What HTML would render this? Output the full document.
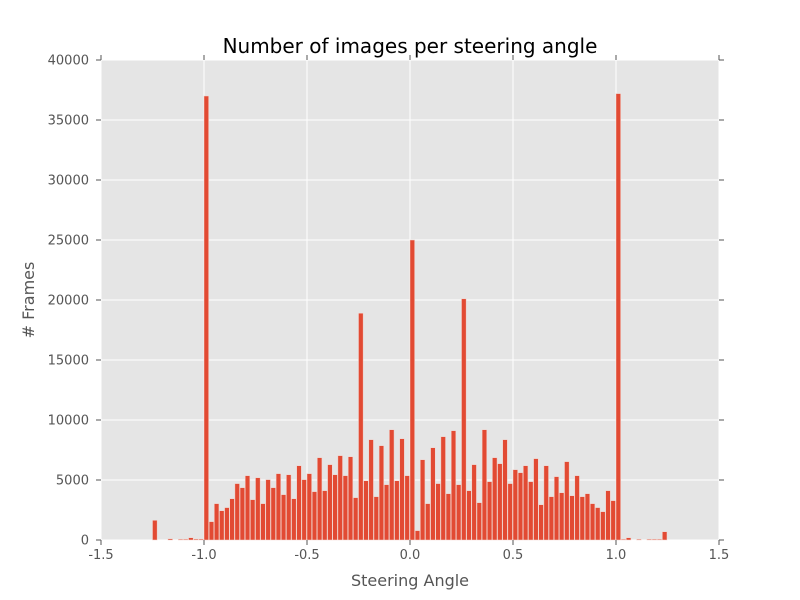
<!DOCTYPE html>
<html><head><meta charset="utf-8"><style>
body{margin:0;background:#fff;}
svg{display:block;font-family:"DejaVu Sans","Liberation Sans",sans-serif;}
</style></head><body>
<svg id="chart" width="800" height="600" viewBox="0 0 800 600">
<rect x="101" y="60" width="618" height="480" fill="#e5e5e5"/>
<g id="grid"></g><g id="bars"></g><g id="axes"></g>
<text x="410" y="53" text-anchor="middle" font-size="20" fill="#000">Number of images per steering angle</text>
<text x="410" y="586" text-anchor="middle" font-size="16" fill="#555">Steering Angle</text>
<text x="34" y="300" text-anchor="middle" font-size="16" fill="#555" transform="rotate(-90 34 300)"># Frames</text>
</svg>
<script>
const binStart = -1.25;
const binWidth = 0.025;
const counts = [1640,0,0,100,0,70,70,190,80,80,
37000,1530,3030,2440,2700,3440,4700,4360,5360,3360,5190,3030,5030,4360,5530,3780,5440,3440,6190,5030,5530,4030,6860,4110,6280,5440,7030,
5360,6940,3530,18900,4940,8360,3610,7860,4610,9190,4940,8440,5360,25000,780,6690,3030,7690,4700,8610,3860,9110,4610,20100,4110,6280,3110,9190,4860,6860,6360,8360,4700,5860,5610,6190,
4860,6780,2940,6190,3610,5280,3940,6530,3690,5360,3610,3860,3030,2700,2360,4110,3280,
37200,70,190,0,70,0,70,70,70,690];
const xTicks = [-1.5,-1.0,-0.5,0.0,0.5,1.0,1.5];
const xTickLabels = ["-1.5","-1.0","-0.5","0.0","0.5","1.0","1.5"];
const yTicks = [0,5000,10000,15000,20000,25000,30000,35000,40000];

const NS="http://www.w3.org/2000/svg";
const X0=101,X1=719,Y0=540,Y1=60;
const xs=v=>X0+(v+1.5)/3*(X1-X0);
const ys=v=>Y0-v/40000*(Y0-Y1);
function mk(tag,attrs,parent){const e=document.createElementNS(NS,tag);for(const k in attrs)e.setAttribute(k,attrs[k]);parent.appendChild(e);return e;}
const grid=document.getElementById('grid'),bars=document.getElementById('bars'),axes=document.getElementById('axes');
xTicks.forEach((t,i)=>{
  const x=xs(t);
  const g=mk('line',{x1:x,x2:x,y1:Y1,y2:Y0,stroke:'#fff','stroke-width':1},grid);
  
  
  mk('line',{x1:x,x2:x,y1:Y0,y2:Y0+5,stroke:'#555'},axes);
  mk('line',{x1:x,x2:x,y1:Y1,y2:Y1-5,stroke:'#555'},axes);
  const l=mk('text',{x:x,y:Y0+19,'text-anchor':'middle','font-size':13,fill:'#555'},axes);
  l.textContent=xTickLabels[i];
  
  
});
yTicks.forEach(t=>{
  const y=ys(t);
  const g=mk('line',{x1:X0,x2:X1,y1:y,y2:y,stroke:'#fff','stroke-width':1},grid);
  
  
  mk('line',{x1:X0-5,x2:X0,y1:y,y2:y,stroke:'#555'},axes);
  mk('line',{x1:X1,x2:X1+5,y1:y,y2:y,stroke:'#555'},axes);
  const l=mk('text',{x:X0-12,y:y+4.5,'text-anchor':'end','font-size':13,fill:'#555'},axes);
  l.textContent=String(t);
  
  
});
counts.forEach((c,i)=>{
  if(c<=0)return;
  const a=binStart+i*binWidth;
  const x=xs(a),w=xs(a+binWidth*0.9)-x,y=ys(c);
  const r=mk('rect',{x:x,y:y,width:w,height:Y0-y,fill:'#E24A33',stroke:'#f2d6d0','stroke-width':0.5},bars);
  
  
});
</script>
</body></html>
